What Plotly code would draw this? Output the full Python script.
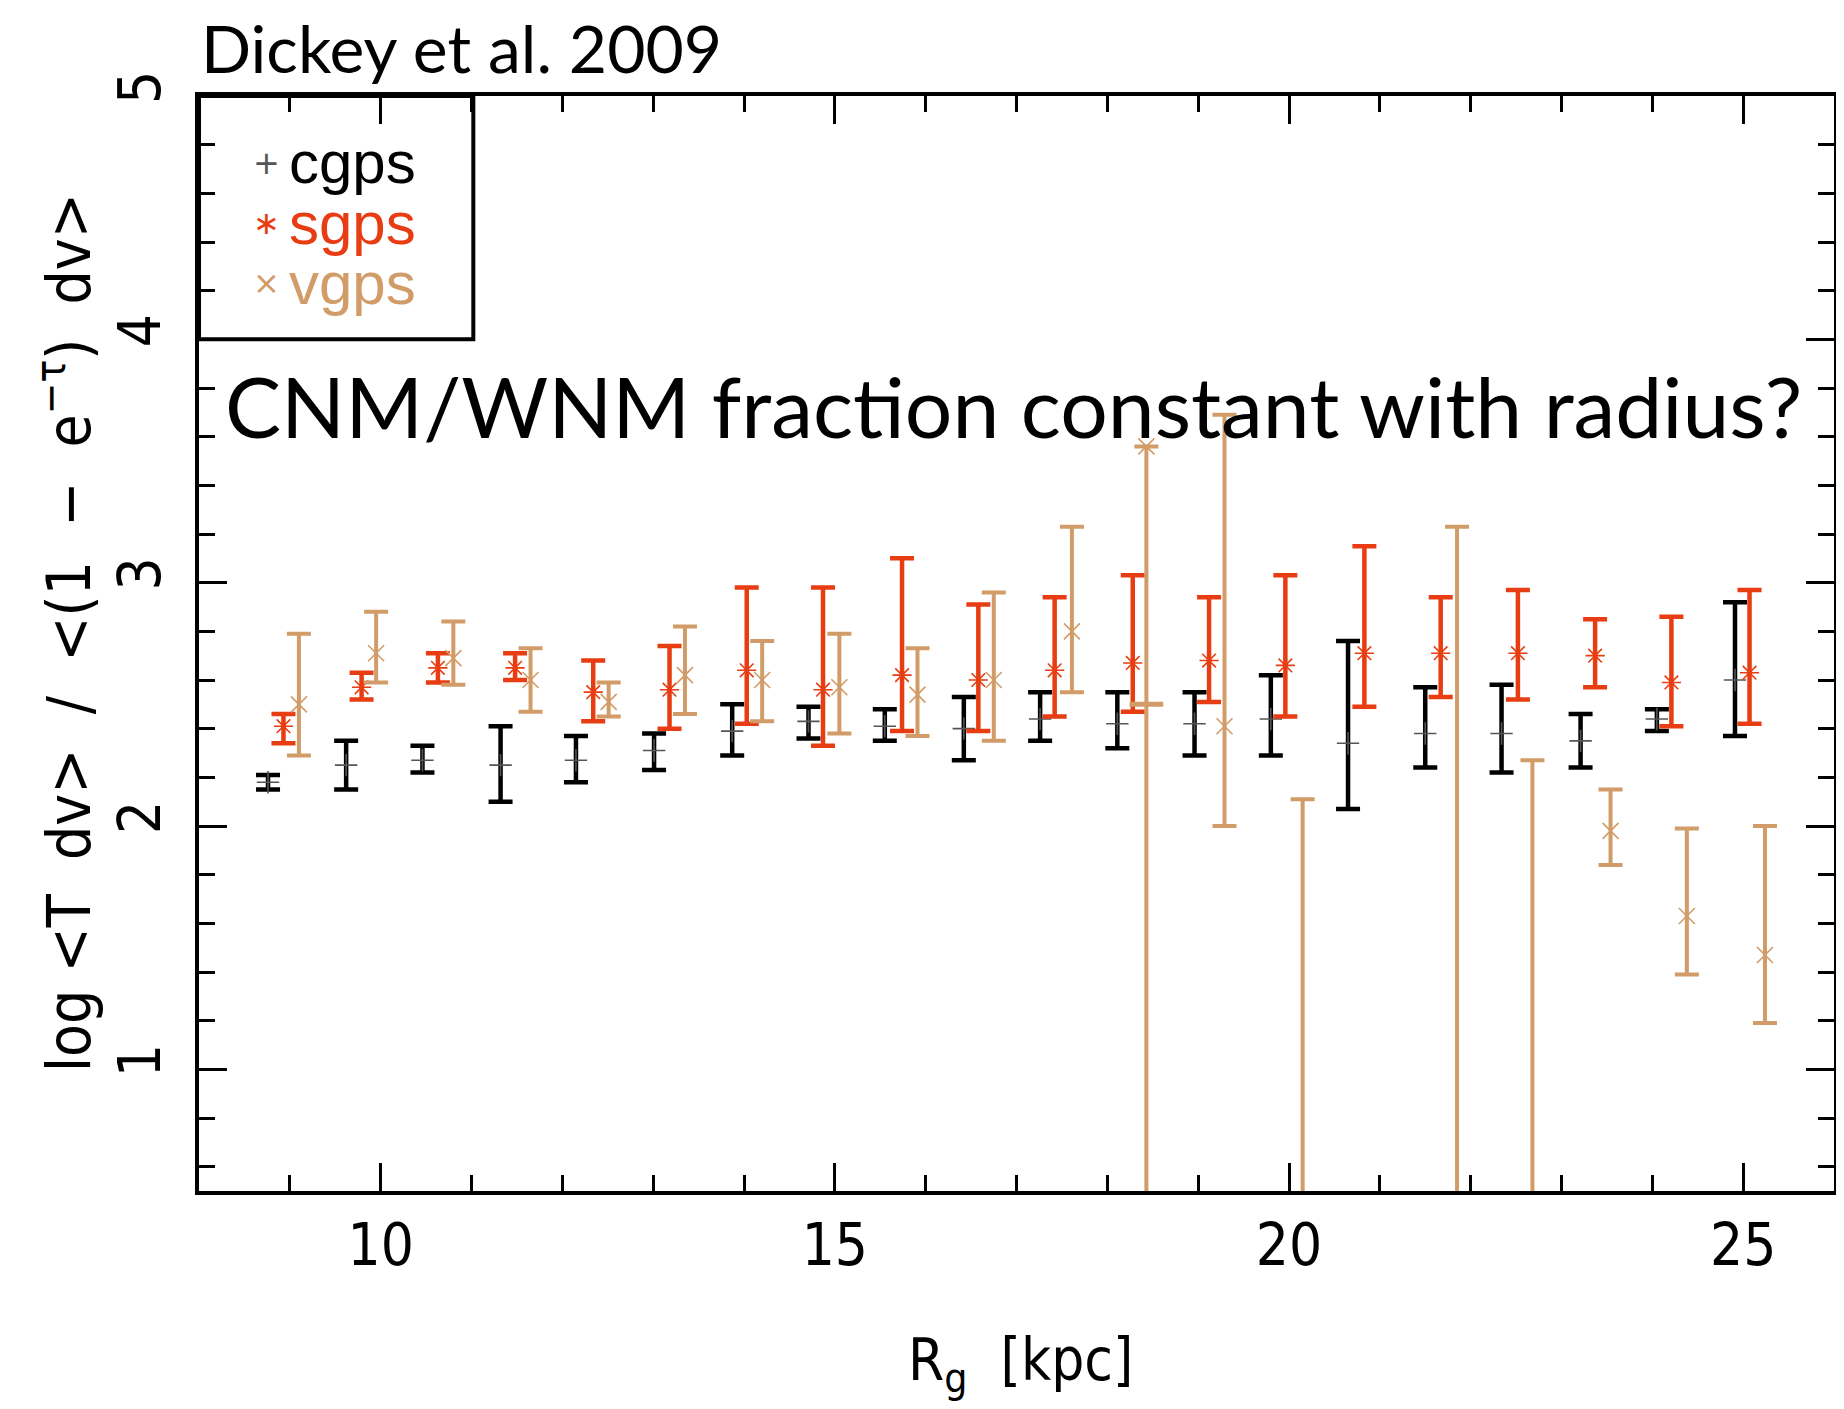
import plotly.graph_objects as go

# ---------------- data ----------------
cgps_x = [8.76, 9.62, 10.46, 11.32, 12.15, 13.01, 13.87, 14.71, 15.55, 16.42,
          17.26, 18.11, 18.96, 19.80, 20.65, 21.50, 22.34, 23.21, 24.05, 24.91]
cgps_y = [2.18, 2.25, 2.27, 2.25, 2.27, 2.31, 2.39, 2.43, 2.41, 2.40,
          2.44, 2.42, 2.42, 2.44, 2.34, 2.38, 2.38, 2.35, 2.44, 2.60]
cgps_hi = [2.21, 2.35, 2.33, 2.41, 2.37, 2.38, 2.50, 2.49, 2.48, 2.53,
           2.55, 2.55, 2.55, 2.62, 2.76, 2.57, 2.58, 2.46, 2.48, 2.92]
cgps_lo = [2.15, 2.15, 2.22, 2.10, 2.18, 2.23, 2.29, 2.36, 2.35, 2.27,
           2.35, 2.32, 2.29, 2.29, 2.07, 2.24, 2.22, 2.24, 2.39, 2.37]

sgps_x = [8.93, 9.79, 10.63, 11.48, 12.34, 13.18, 14.03, 14.87, 15.74, 16.58,
          17.42, 18.28, 19.12, 19.96, 20.83, 21.67, 22.52, 23.37, 24.21, 25.07]
sgps_y = [2.41, 2.57, 2.65, 2.65, 2.55, 2.56, 2.64, 2.56, 2.62, 2.60,
          2.64, 2.67, 2.68, 2.66, 2.71, 2.71, 2.71, 2.70, 2.59, 2.63]
sgps_hi = [2.46, 2.63, 2.71, 2.71, 2.68, 2.74, 2.98, 2.98, 3.10, 2.91,
           2.94, 3.03, 2.94, 3.03, 3.15, 2.94, 2.97, 2.85, 2.86, 2.97]
sgps_lo = [2.34, 2.52, 2.59, 2.60, 2.43, 2.40, 2.42, 2.33, 2.39, 2.39,
           2.45, 2.47, 2.51, 2.45, 2.49, 2.53, 2.52, 2.57, 2.41, 2.42]

vgps_x = [9.10, 9.95, 10.80, 11.65, 12.51, 13.35, 14.20, 15.05, 15.91, 16.75,
          17.61, 18.43, 19.29, 20.15, 21.85, 22.68, 23.54, 24.38, 25.24]
vgps_y = [2.50, 2.71, 2.69, 2.60, 2.51, 2.62, 2.60, 2.57, 2.54, 2.60,
          2.80, 3.56, 2.41, 0.30, 0.30, 0.30, 1.98, 1.63, 1.47]
vgps_hi = [2.79, 2.88, 2.84, 2.73, 2.59, 2.82, 2.76, 2.79, 2.73, 2.96,
           3.23, 3.56, 3.69, 2.11, 3.23, 2.27, 2.15, 1.99, 2.00]
vgps_lo = [2.29, 2.59, 2.58, 2.47, 2.45, 2.46, 2.43, 2.38, 2.37, 2.35,
           2.55, 0.00, 2.00, 0.00, 0.00, 0.00, 1.84, 1.39, 1.19]
# stray bar cap drawn on the 18.4 kpc vgps bar
vgps_cap_x = [18.43]
vgps_cap_y = [2.50]

series_names = ["cgps", "sgps", "vgps"]
legend_symbols = ["+", "\u2217", "\u00d7"]

x_range = [8, 26]
y_range = [0.5, 5]
y_ticks = [1, 2, 3, 4, 5]
x_ticks = [10, 15, 20, 25]

title_text = "Dickey et al. 2009"
overlay_text = "CNM/WNM fraction constant with radius?"
x_title = "R<sub>g</sub>  [kpc]"
y_title = ("log &lt;T  dv&gt;  /  &lt;(1  \u2212  e<sup>\u2212\u03c4</sup>)  dv&gt;")

# ---------------- styles ----------------
BLACK = "#000000"
RED = "#E83C12"
TAN = "#D19C68"
AXIS_FONT = "Liberation Sans Narrow, DejaVu Sans Condensed, Liberation Sans, sans-serif"
NOTE_FONT = "Lato, Noto Sans, sans-serif"

# the page body has an 8px margin; compensate so the plot box lands
# at x 199..1838, y 96..1191 of the browser window
W, H = 1830, 1393
ML, MR, MT, MB = 191, 0, 88, 210


def errs(y, hi, lo):
    return [h - v for v, h in zip(y, hi)], [v - l for v, l in zip(y, lo)]


fig = go.Figure()

for name, x, y, hi, lo, col, mcol, sym, thick in [
    ("cgps", cgps_x, cgps_y, cgps_hi, cgps_lo, BLACK, "#555555", "cross-thin", 4.5),
    ("sgps", sgps_x, sgps_y, sgps_hi, sgps_lo, RED, RED, "asterisk", 4.5),
    ("vgps", vgps_x, vgps_y, vgps_hi, vgps_lo, TAN, TAN, "x-thin", 4),
]:
    plus, minus = errs(y, hi, lo)
    fig.add_trace(go.Scatter(
        x=x, y=y, mode="markers", name=name, showlegend=False,
        marker=dict(symbol=sym, size=16, color=mcol,
                    line=dict(color=mcol, width=1.6)),
        error_y=dict(type="data", symmetric=False, array=plus, arrayminus=minus,
                     color=col, thickness=thick, width=12),
    ))

fig.add_trace(go.Scatter(
    x=vgps_cap_x, y=vgps_cap_y, mode="markers", showlegend=False,
    marker=dict(symbol="line-ew", size=24, color=TAN,
                line=dict(color=TAN, width=5)),
))

axis_common = dict(
    showgrid=False, zeroline=False, showline=True, linecolor=BLACK,
    linewidth=4, mirror="ticks", ticks="inside", tickcolor=BLACK,
    tickwidth=3, ticklen=28,
    tickfont=dict(family=AXIS_FONT, size=58, color=BLACK),
)

fig.update_xaxes(range=x_range, tickvals=x_ticks, ticklabelstandoff=0,
                 minor=dict(dtick=1, tick0=0, ticks="inside", ticklen=16,
                            tickwidth=3, tickcolor=BLACK),
                 **axis_common)
fig.update_yaxes(range=y_range, tickvals=y_ticks, tickangle=-90,
                 ticklabelstandoff=12,
                 minor=dict(dtick=0.2, tick0=0, ticks="inside", ticklen=16,
                            tickwidth=3, tickcolor=BLACK),
                 **axis_common)

# legend box (IDL style, drawn in data space)
fig.add_shape(type="rect", xref="x", yref="y", x0=8, x1=11.02, y0=4, y1=5,
              line=dict(color=BLACK, width=4), fillcolor="rgba(0,0,0,0)")

leg_colors = ["#555555", RED, TAN]
txt_colors = [BLACK, RED, TAN]
leg_y = [0.939, 0.884, 0.829]
for nm, s, sc, tc, yy in zip(series_names, legend_symbols, leg_colors, txt_colors, leg_y):
    fig.add_annotation(xref="paper", yref="paper", x=0.041, y=yy, text=s,
                       showarrow=False, xanchor="center", yanchor="middle",
                       font=dict(family="DejaVu Sans", size=32, color=sc))
    fig.add_annotation(xref="paper", yref="paper", x=0.054, y=yy, text=nm,
                       showarrow=False, xanchor="left", yanchor="middle",
                       font=dict(family="Liberation Sans, sans-serif", size=60, color=tc))

fig.add_annotation(xref="paper", yref="paper", x=0.0, y=1.044, text=title_text,
                   showarrow=False, xanchor="left", yanchor="middle",
                   font=dict(family=NOTE_FONT, size=66, color=BLACK))
fig.add_annotation(xref="paper", yref="paper", x=0.0146, y=0.717, text=overlay_text,
                   showarrow=False, xanchor="left", yanchor="middle",
                   font=dict(family=NOTE_FONT, size=84, color=BLACK))
fig.add_annotation(xref="paper", yref="paper", x=0.5027, y=-0.158, text=x_title,
                   showarrow=False, xanchor="center", yanchor="middle",
                   font=dict(family=AXIS_FONT, size=58, color=BLACK))
fig.add_annotation(xref="paper", yref="paper", x=-0.082, y=0.5105, text=y_title,
                   showarrow=False, xanchor="center", yanchor="middle", textangle=-90,
                   font=dict(family=AXIS_FONT, size=60, color=BLACK))

fig.update_layout(
    width=W, height=H, autosize=False,
    margin=dict(l=ML, r=MR, t=MT, b=MB, pad=0),
    paper_bgcolor="white", plot_bgcolor="white",
    showlegend=False,
)

fig.write_html("out.html")
